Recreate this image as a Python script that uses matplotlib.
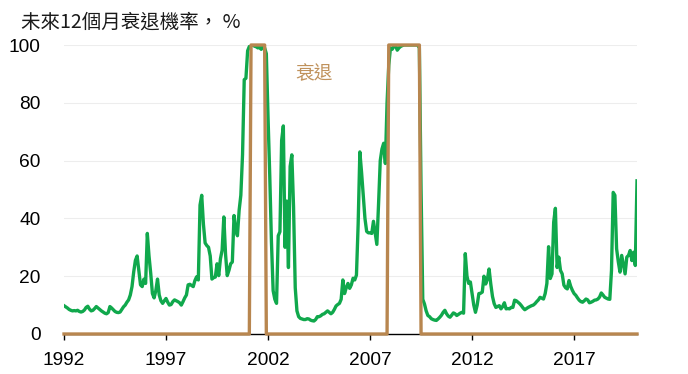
import numpy as np
import matplotlib
matplotlib.use("Agg")
import matplotlib.pyplot as plt

plt.rcParams['font.family'] = ['Liberation Sans', 'Noto Sans CJK TC', 'DejaVu Sans']

# monthly probability of recession within next 12 months, Jan 1992 - Feb 2020
prob = [
    9.8, 9.4, 9.0, 8.5, 8.2, 8.0, 8.1, 8.0, 8.2, 7.8, 7.6, 7.8,            # 1992
    8.3, 9.2, 9.6, 8.6, 8.0, 8.2, 8.8, 9.5, 9.0, 8.5, 8.0, 7.6,            # 1993
    7.2, 7.0, 7.4, 9.5, 9.0, 8.4, 7.8, 7.5, 7.4, 7.6, 8.5, 9.4,            # 1994
    10.0, 11.0, 11.8, 13.5, 16.4, 21.5, 25.5, 27.0, 22.0, 17.0, 16.4, 19.0,  # 1995
    17.5, 34.8, 27.0, 21.0, 14.0, 12.5, 15.0, 19.0, 13.5, 11.5, 10.6, 11.5,  # 1996
    12.3, 11.0, 10.0, 10.2, 11.2, 11.8, 11.5, 11.2, 10.8, 10.0, 11.2, 12.5,  # 1997
    13.5, 17.0, 17.2, 16.8, 16.4, 18.5, 19.8, 18.7, 44.6, 48.0, 38.0, 31.5,  # 1998
    30.6, 30.0, 27.0, 19.0, 19.5, 19.7, 24.3, 20.2, 26.0, 29.0, 40.5, 27.7,  # 1999
    20.2, 22.0, 24.3, 24.9, 41.0, 36.0, 34.0, 42.8, 48.0, 62.0, 88.0, 88.5,  # 2000
    98.0, 99.5, 99.8, 100, 99.6, 99.4, 99.0, 99.2, 98.5, 99.4, 99.0, 97.0,   # 2001
    75.0, 55.0, 32.0, 15.0, 12.0, 10.6, 34.0, 35.4, 67.0, 72.0, 30.0, 46.0,  # 2002
    23.0, 58.0, 62.0, 44.0, 16.0, 8.0, 6.0, 5.4, 5.2, 5.0, 5.0, 5.3,        # 2003
    5.2, 4.8, 4.6, 4.5, 5.0, 6.0, 6.0, 6.3, 6.8, 7.0, 7.5, 8.0,            # 2004
    7.5, 7.0, 7.5, 8.5, 9.7, 10.2, 10.6, 12.0, 18.7, 14.0, 16.0, 17.5,     # 2005
    15.8, 17.0, 19.3, 18.7, 20.4, 38.0, 63.0, 56.0, 48.0, 40.0, 35.5, 35.0,  # 2006
    35.0, 34.8, 39.0, 35.0, 31.0, 45.0, 60.0, 64.0, 66.0, 59.0, 80.0, 93.0,  # 2007
    99.0, 98.5, 99.5, 99.8, 98.2, 99.0, 99.5, 99.8, 100, 100, 100, 100,     # 2008
    100, 100, 100, 100, 100, 99.0, 50.0, 12.0, 10.4, 8.0, 6.4, 6.0,        # 2009
    5.3, 5.0, 4.8, 4.7, 5.2, 5.8, 6.5, 7.5, 8.2, 7.0, 6.2, 5.8,            # 2010
    6.5, 7.3, 7.0, 6.4, 6.8, 7.2, 7.5, 7.2, 27.8, 20.0, 17.5, 18.0,        # 2011
    14.0, 10.0, 7.5, 10.0, 14.0, 14.1, 14.5, 20.0, 17.3, 19.0, 22.5, 17.3,  # 2012
    13.0, 10.5, 9.2, 9.5, 9.8, 8.7, 9.5, 10.8, 8.7, 8.8, 8.7, 9.2,         # 2013
    9.2, 11.7, 11.5, 11.0, 10.5, 9.8, 9.0, 8.4, 8.8, 9.2, 9.5, 9.8,        # 2014
    10.0, 10.5, 11.2, 11.8, 12.7, 12.4, 12.1, 14.0, 17.5, 30.2, 19.2, 20.8,  # 2015
    38.7, 43.5, 23.0, 26.6, 22.0, 20.8, 16.9, 16.0, 15.6, 18.5, 16.5, 15.1,  # 2016
    14.0, 13.4, 12.5, 11.7, 11.2, 11.0, 11.5, 12.1, 11.8, 10.8, 11.0, 11.3,  # 2017
    11.7, 11.8, 12.1, 12.8, 14.2, 13.5, 12.7, 12.4, 12.1, 12.0, 22.0, 49.0,  # 2018
    48.0, 29.5, 25.0, 21.4, 27.2, 24.0, 20.8, 26.6, 27.2, 28.9, 25.4, 28.3,  # 2019
    23.7, 53.0,                                                              # 2020
]

# NBER recessions (first month, last month)
recessions = [((2001, 3), (2001, 11)), ((2007, 12), (2009, 6))]
year_ticks = [1992, 1997, 2002, 2007, 2012, 2017]

t = 1992 + np.arange(len(prob)) / 12.0
rec = np.zeros(len(prob))
for (y0, m0), (y1, m1) in recessions:
    i0 = (y0 - 1992) * 12 + m0 - 1
    i1 = (y1 - 1992) * 12 + m1 - 1
    rec[i0:i1 + 1] = 100

green = '#10A84C'
tan = '#B8864F'

fig = plt.figure(figsize=(6.88, 3.74), dpi=100)
ax = fig.add_axes([64 / 688, 1 - 334 / 374, (637 - 64) / 688, (334 - 45) / 374])

for v in [20, 40, 60, 80, 100]:
    ax.axhline(v, color='#EDEDED', lw=0.8, zorder=0)

ax.plot(t, prob, color=green, lw=2.4, zorder=2)
ax.plot(t, rec, color=tan, lw=2.4, zorder=3, clip_on=False)

ax.set_xlim(t[0], t[-1])
ax.set_ylim(0, 100)
ax.set_yticks([0, 20, 40, 60, 80, 100])
ax.set_xticks(year_ticks)
ax.set_xticklabels([str(y) for y in year_ticks])
ax.tick_params(axis='y', length=0, pad=17, labelsize=13.8)
ax.tick_params(axis='x', length=4, width=1, pad=9, labelsize=13.8, direction='out')

for s in ['top', 'right', 'left']:
    ax.spines[s].set_visible(False)
ax.spines['bottom'].set_color('black')
ax.spines['bottom'].set_linewidth(1)

fig.text(21 / 688, 1 - 22 / 374, '未來12個月衰退機率， %', fontsize=14,
         family=['Noto Sans CJK TC', 'DejaVu Sans'], color='#1a1a1a',
         ha='left', va='center')
ax.text(2004.25, 90, '衰退', fontsize=13.5, color='#C0925C',
        family=['Noto Sans CJK TC', 'DejaVu Sans'], ha='center', va='center')

fig.savefig('out.png', dpi=100)
